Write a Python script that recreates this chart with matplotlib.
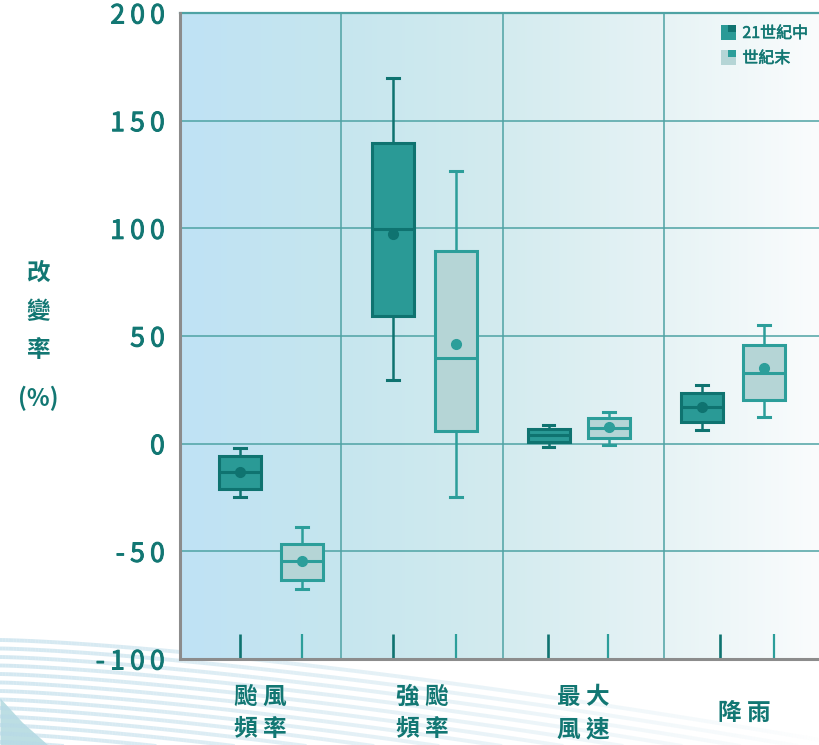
import numpy as np
import matplotlib
matplotlib.use('Agg')
import matplotlib.pyplot as plt
import matplotlib.patheffects as pe
from matplotlib.patches import Rectangle
from matplotlib.legend_handler import HandlerBase
from matplotlib.colors import LinearSegmentedColormap, to_rgba
from matplotlib.collections import LineCollection

plt.rcParams['font.family'] = ['Noto Sans CJK TC', 'DejaVu Sans']

# data (percent change)
categories = ['颱 風\n頻 率', '強 颱\n頻 率', '最 大\n風 速', '降 雨']
series_names = ['21世紀中', '世紀末']

mid_whislo = [-24.7, 29.6, -1.5, 6.2]
mid_q1 = [-21.0, 59.5, 0.9, 10.2]
mid_med = [-13.3, 99.5, 3.9, 17.1]
mid_q3 = [-5.9, 139.5, 7.0, 23.6]
mid_whishi = [-1.9, 169.8, 8.8, 27.4]
mid_mean = [-13.3, 97.2, np.nan, 17.1]   # no dot visible for 最大風速

end_whislo = [-67.4, -24.8, -0.8, 12.2]
end_q1 = [-63.1, 5.7, 2.6, 20.1]
end_med = [-54.7, 39.9, 7.3, 33.0]
end_q3 = [-46.4, 89.4, 11.8, 45.7]
end_whishi = [-38.6, 126.5, 14.9, 55.0]
end_mean = [-54.7, 46.4, 7.9, 35.0]

yticks = [-100, -50, 0, 50, 100, 150, 200]

# layout
pos_mid = [0.372, 1.320, 2.285, 3.236]
pos_end = [0.756, 1.711, 2.660, 3.620]
tick_mid = [0.372, 1.320, 2.281, 3.348]
tick_end = [0.756, 1.711, 2.653, 3.681]

dark_face, dark_edge = '#2a9a96', '#0f7370'
light_face, light_edge = '#b5d5d6', '#2c9e9a'
text_col = '#127773'
grid_col = '#4ea3a4'


def make_stats(lo, q1, med, q3, hi, mean):
    return [dict(whislo=a, q1=b, med=c, q3=d, whishi=e, mean=f, fliers=[])
            for a, b, c, d, e, f in zip(lo, q1, med, q3, hi, mean)]


fig = plt.figure(figsize=(8.2, 7.45), dpi=100)
fig.patch.set_facecolor('white')

# faint background waves bottom-left
bg = fig.add_axes([0, 0, 1, 1], zorder=-5)
bg.set_xlim(0, 820)
bg.set_ylim(745, 0)
bg.axis('off')
xs = np.linspace(0, 820, 300)
fade = np.clip(1 - xs / 820, 0, 1) ** 0.8
top = 640 + 100 * (xs / 820) ** 1.4
for i in range(14):
    ys = top + i * 8.5 * (1 + 0.15 * xs / 820)
    pts = np.column_stack([xs, ys]).reshape(-1, 1, 2)
    segs = np.concatenate([pts[:-1], pts[1:]], axis=1)
    cols = [to_rgba('#b7d9e8', 0.6 * f) for f in fade[:-1]]
    bg.add_collection(LineCollection(segs, colors=cols, linewidths=2.8))
bg.fill_between([0, 22, 48], [745, 745, 745], [698, 722, 745], color='#86c4cc', alpha=0.55, lw=0)

ax = fig.add_axes([180 / 820, 86 / 745, 640 / 820, 646 / 745])
xmax = 640 / 161.3
ax.set_xlim(0, xmax)
ax.set_ylim(-100, 200)

# gradient plot area
cmap = LinearSegmentedColormap.from_list('bgc', ['#bfe2f5', '#c6e6ee', '#d3ebef', '#e6f3f5', '#fafcfd'])
grad = np.linspace(0, 1, 256).reshape(1, -1)
ax.imshow(grad, cmap=cmap, aspect='auto', extent=[0, xmax, -100, 200], zorder=0)

for y in yticks[1:]:
    ax.axhline(y, color=grid_col, lw=1.1, zorder=1)
for x in [1, 2, 3]:
    ax.axvline(x, color=grid_col, lw=1.1, zorder=1)

ax.bxp(make_stats(mid_whislo, mid_q1, mid_med, mid_q3, mid_whishi, mid_mean),
       positions=pos_mid, widths=0.26, showmeans=True, showfliers=False,
       patch_artist=True, manage_ticks=False, zorder=3,
       boxprops=dict(facecolor=dark_face, edgecolor=dark_edge, lw=2.2),
       medianprops=dict(color=dark_edge, lw=2.2),
       whiskerprops=dict(color=dark_edge, lw=1.8),
       capprops=dict(color=dark_edge, lw=2.2),
       capwidths=0.07,
       meanprops=dict(marker='o', markerfacecolor=dark_edge, markeredgecolor=dark_edge, markersize=7))
ax.bxp(make_stats(end_whislo, end_q1, end_med, end_q3, end_whishi, end_mean),
       positions=pos_end, widths=0.26, showmeans=True, showfliers=False,
       patch_artist=True, manage_ticks=False, zorder=3,
       boxprops=dict(facecolor=light_face, edgecolor=light_edge, lw=2.2),
       medianprops=dict(color=light_edge, lw=2.2),
       whiskerprops=dict(color=light_edge, lw=1.8),
       capprops=dict(color=light_edge, lw=2.2),
       capwidths=0.07,
       meanprops=dict(marker='o', markerfacecolor=light_edge, markeredgecolor=light_edge, markersize=7))

# short marks along the bottom
ax.vlines(tick_mid, -100, -88.4, color=dark_edge, lw=1.9, zorder=2)
ax.vlines(tick_end, -100, -88.4, color=light_edge, lw=1.6, zorder=2)

for s in ['top', 'right']:
    ax.spines[s].set_visible(False)
for s in ['left', 'bottom']:
    ax.spines[s].set_color('#8c8c8c')
    ax.spines[s].set_linewidth(2.2)
    ax.spines[s].set_zorder(4)
ax.axhline(200, color=grid_col, lw=1.6, zorder=4, clip_on=False)

ax.set_yticks(yticks)
ax.set_yticklabels(['\u2009'.join(str(v)) for v in yticks], fontsize=19, color=text_col)
for t in ax.get_yticklabels():
    t.set_path_effects([pe.withStroke(linewidth=0.7, foreground=text_col)])
ax.tick_params(axis='y', length=0, pad=11)
ax.set_xticks([])

# y axis title, stacked
for txt, ypix in [('改', 273), ('變', 312), ('率', 350), ('(%)', 398)]:
    fig.text(38 / 820, 1 - ypix / 745, txt, ha='center', va='center',
             fontsize=17, fontweight='bold', color=text_col)

# category labels
for i, lab in enumerate(categories):
    xpix = 180 + (i + 0.5) * 161.3
    fig.text(xpix / 820, 1 - 713 / 745, lab, ha='center', va='center',
             fontsize=17, fontweight='bold', color=text_col, linespacing=1.45)


class Swatch:
    def __init__(self, outer, inner):
        self.outer = outer
        self.inner = inner


class SwatchHandler(HandlerBase):
    def create_artists(self, legend, h, xdescent, ydescent, width, height, fontsize, trans):
        s = height * 1.35
        x0 = -xdescent + width - s
        y0 = -ydescent + (height - s) / 2
        r1 = Rectangle((x0, y0), s, s, facecolor=h.outer, edgecolor='none', transform=trans)
        r2 = Rectangle((x0 + s * 0.5, y0 + s * 0.5), s * 0.5, s * 0.5, facecolor=h.inner,
                       edgecolor='none', transform=trans)
        return [r1, r2]


handles = [Swatch(dark_face, dark_edge), Swatch(light_face, light_edge)]
leg = ax.legend(handles, series_names, handler_map={Swatch: SwatchHandler()},
                loc='upper right', bbox_to_anchor=(1.0, 1.0), frameon=False,
                fontsize=11.5, handlelength=1.1, handletextpad=0.4, labelspacing=0.5,
                borderaxespad=0.35)
for t in leg.get_texts():
    t.set_color(text_col)
    t.set_path_effects([pe.withStroke(linewidth=0.4, foreground=text_col)])
leg.set_zorder(6)

fig.savefig('out.png', dpi=100)
